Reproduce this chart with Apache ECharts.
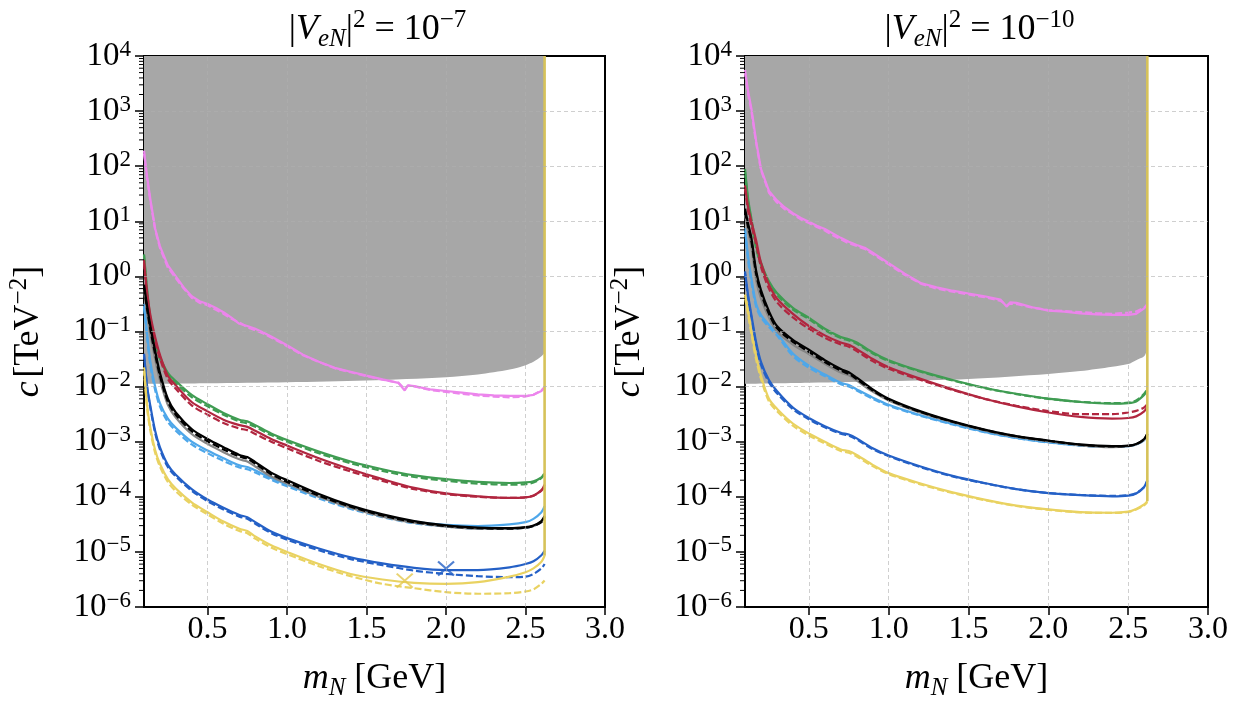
<!DOCTYPE html>
<html><head><meta charset="utf-8">
<script src="https://cdn.jsdelivr.net/npm/echarts@6/dist/echarts.min.js"></script>
<style>html,body{margin:0;padding:0;background:#fff}#c{width:1233px;height:706px}</style>
</head><body><div id="c"></div>
<script>
// ---------- shared axes / ticks ----------
const xs = [0.10,0.12,0.14,0.17,0.20,0.25,0.30,0.40,0.50,0.60,0.70,0.75,0.80,0.90,1.00,1.20,1.40,1.60,1.80,2.00,2.20,2.40,2.50,2.55,2.60,2.62];
const xsPink = [0.10,0.12,0.14,0.17,0.20,0.25,0.30,0.35,0.40,0.45,0.50,0.55,0.60,0.65,0.70,0.75,0.80,0.85,0.90,1.00,1.10,1.20,1.30,1.40,1.50,1.60,1.70,1.74,1.76,1.80,1.90,2.00,2.10,2.20,2.30,2.40,2.50,2.55,2.60,2.62];
const grayX = [0.10,0.50,1.00,1.50,2.00,2.20,2.40,2.50,2.55,2.60,2.617];
const xTicks = [0.5,1.0,1.5,2.0,2.5,3.0];
const yDecades = [1e-6,1e-5,1e-4,1e-3,1e-2,1e-1,1e0,1e1,1e2,1e3,1e4];
const edgeX = 2.62;       // kinematic edge of the yellow curve
const panelTitles = ['−7','−10'];

// ---------- left panel  |V_eN|^2 = 1e-7 ----------
const L_grayLow = [0.0112,0.0115,0.012,0.0129,0.0148,0.0166,0.0204,0.0245,0.0282,0.0355,0.0398];
const L_pink   = [191,63.1,25.1,7.41,3.55,1.58,1.0,0.631,0.437,0.355,0.316,0.269,0.224,0.178,0.138,0.126,0.112,0.0955,0.0813,0.0562,0.038,0.0282,0.0219,0.0186,0.0158,0.0135,0.0117,0.00851,0.0105,0.0102,0.00891,0.00832,0.00776,0.00724,0.00692,0.00676,0.00676,0.00708,0.00832,0.00955];
const L_pinkD  = [170,58,23,7.0,3.3,1.45,0.93,0.60,0.41,0.33,0.30,0.25,0.21,0.17,0.145,0.12,0.105,0.092,0.078,0.054,0.037,0.028,0.0215,0.0182,0.0155,0.0133,0.0118,0.0090,0.0104,0.0101,0.0087,0.0080,0.0074,0.0069,0.0066,0.0064,0.0066,0.0071,0.0086,0.0098];
const L_green  = [2.51,0.562,0.178,0.0708,0.0355,0.0178,0.0126,7.08e-3,4.79e-3,3.31e-3,2.51e-3,2.34e-3,2.0e-3,1.41e-3,1.07e-3,6.61e-4,4.37e-4,3.16e-4,2.45e-4,2.09e-4,1.86e-4,1.78e-4,1.82e-4,1.91e-4,2.24e-4,2.63e-4];
const L_greenD = [2.40,0.525,0.158,0.0631,0.0316,0.0162,0.0115,6.46e-3,4.37e-3,3.09e-3,2.34e-3,2.14e-3,1.86e-3,1.32e-3,1.0e-3,6.17e-4,4.07e-4,2.95e-4,2.29e-4,1.95e-4,1.74e-4,1.66e-4,1.70e-4,1.82e-4,2.19e-4,2.75e-4];
const L_red    = [2.0,0.501,0.2,0.0794,0.038,0.0158,0.0105,5.25e-3,3.55e-3,2.51e-3,2.0e-3,1.86e-3,1.58e-3,1.12e-3,8.51e-4,5.01e-4,3.16e-4,2.09e-4,1.45e-4,1.15e-4,1.02e-4,9.55e-5,9.77e-5,1.05e-4,1.32e-4,1.66e-4];
const L_redD   = [1.78,0.417,0.166,0.0661,0.0324,0.0138,9.12e-3,4.57e-3,3.09e-3,2.19e-3,1.74e-3,1.62e-3,1.38e-3,1.0e-3,7.59e-4,4.47e-4,2.88e-4,1.95e-4,1.38e-4,1.12e-4,1.0e-4,9.55e-5,9.77e-5,1.05e-4,1.29e-4,1.58e-4];
const L_black  = [0.708,0.282,0.126,0.0447,0.0178,6.03e-3,3.39e-3,1.70e-3,1.12e-3,7.94e-4,5.75e-4,5.25e-4,4.27e-4,2.75e-4,2.0e-4,1.12e-4,6.92e-5,4.79e-5,3.63e-5,3.02e-5,2.75e-5,2.69e-5,2.82e-5,3.02e-5,3.63e-5,4.47e-5];
const L_blackD = [0.631,0.251,0.110,0.0389,0.0158,5.37e-3,3.09e-3,1.55e-3,1.02e-3,7.24e-4,5.37e-4,4.90e-4,3.98e-4,2.57e-4,1.86e-4,1.05e-4,6.61e-5,4.57e-5,3.47e-5,2.95e-5,2.69e-5,2.63e-5,2.75e-5,2.95e-5,3.47e-5,4.27e-5];
const L_grey   = [0.562,0.209,0.0891,0.0316,0.0132,4.68e-3,2.75e-3,1.38e-3,9.12e-4,6.46e-4,4.79e-4,4.37e-4,3.55e-4,2.34e-4,1.74e-4,1.0e-4,6.31e-5,4.37e-5,3.39e-5,2.88e-5,2.63e-5,2.63e-5,2.75e-5,2.95e-5,3.55e-5,4.37e-5];
const L_sky    = [0.316,0.0891,0.0282,0.01,5.01e-3,2.63e-3,1.78e-3,1.0e-3,6.92e-4,5.01e-4,3.72e-4,3.47e-4,3.02e-4,2.19e-4,1.66e-4,1.0e-4,6.46e-5,4.57e-5,3.55e-5,3.09e-5,2.95e-5,3.16e-5,3.47e-5,3.98e-5,5.25e-5,6.76e-5];
const L_skyD   = [0.282,0.0759,0.024,8.71e-3,4.37e-3,2.29e-3,1.58e-3,8.91e-4,6.17e-4,4.47e-4,3.39e-4,3.16e-4,2.75e-4,2.04e-4,1.55e-4,9.33e-5,6.03e-5,4.27e-5,3.31e-5,2.88e-5,2.63e-5,2.63e-5,2.75e-5,2.95e-5,3.55e-5,4.37e-5];
const L_blue   = [0.0398,0.01,4.47e-3,1.58e-3,7.94e-4,3.80e-4,2.51e-4,1.38e-4,8.91e-5,6.31e-5,4.68e-5,4.27e-5,3.47e-5,2.34e-5,1.78e-5,1.15e-5,7.94e-6,6.17e-6,5.13e-6,4.68e-6,4.68e-6,5.25e-6,6.03e-6,6.76e-6,8.71e-6,1.05e-5];
const L_blueD  = [0.038,9.33e-3,4.07e-3,1.45e-3,7.24e-4,3.47e-4,2.34e-4,1.29e-4,8.32e-5,5.89e-5,4.37e-5,3.98e-5,3.24e-5,2.19e-5,1.66e-5,1.07e-5,7.41e-6,5.75e-6,4.57e-6,3.98e-6,3.63e-6,3.47e-6,3.55e-6,3.98e-6,5.01e-6,6.03e-6];
const L_yellow = [0.0224,4.47e-3,1.78e-3,7.08e-4,3.98e-4,2.09e-4,1.41e-4,7.94e-5,5.25e-5,3.55e-5,2.63e-5,2.40e-5,1.91e-5,1.32e-5,1.0e-5,6.03e-6,3.98e-6,3.16e-6,2.75e-6,2.63e-6,2.82e-6,3.55e-6,4.27e-6,5.01e-6,6.61e-6,8.51e-6];
const L_yellowD= [0.0209,3.98e-3,1.58e-3,6.31e-4,3.55e-4,1.86e-4,1.26e-4,7.24e-5,4.79e-5,3.24e-5,2.40e-5,2.19e-5,1.74e-5,1.20e-5,9.12e-6,5.50e-6,3.63e-6,2.63e-6,2.19e-6,1.86e-6,1.74e-6,1.78e-6,1.91e-6,2.09e-6,2.63e-6,3.02e-6];
const L_blueMark   = [[2.0, 5.0e-6]];
const L_yellowMark = [[1.74, 3.0e-6]];

// ---------- right panel  |V_eN|^2 = 1e-10 ----------
const R_grayLow = [0.0112,0.0117,0.0126,0.0138,0.017,0.0191,0.0229,0.0257,0.0302,0.0355,0.0447];
const R_pink   = [5620,2239,1122,282,89.1,35.5,24.0,17.8,14.1,11.5,9.77,8.32,7.24,6.03,5.01,4.27,3.72,3.31,2.69,1.74,1.12,0.759,0.631,0.55,0.49,0.437,0.38,0.282,0.339,0.331,0.275,0.24,0.229,0.214,0.204,0.2,0.2,0.209,0.263,0.316];
const R_pinkD  = [5000,2000,1000,260,85,33,22,16.5,13.5,10.8,9.3,7.9,6.8,5.6,4.7,4.0,3.55,3.15,2.55,1.66,1.07,0.74,0.60,0.53,0.47,0.42,0.36,0.30,0.32,0.315,0.27,0.245,0.235,0.225,0.215,0.21,0.22,0.23,0.27,0.30];
const R_green  = [89.1,25.1,11.2,3.55,1.78,0.813,0.501,0.269,0.178,0.112,0.0794,0.0724,0.0631,0.0417,0.0302,0.0191,0.0132,9.55e-3,7.41e-3,6.03e-3,5.25e-3,4.90e-3,5.01e-3,5.37e-3,7.08e-3,8.51e-3];
const R_greenD = [80,22,10,3.2,1.6,0.74,0.46,0.25,0.168,0.106,0.076,0.069,0.060,0.040,0.029,0.0186,0.0129,9.4e-3,7.3e-3,6.0e-3,5.3e-3,5.0e-3,5.1e-3,5.6e-3,7.4e-3,9.0e-3];
const R_red    = [44.7,17.8,10.0,4.47,1.78,0.708,0.398,0.209,0.126,0.0851,0.0631,0.0575,0.0479,0.0316,0.0224,0.0138,8.91e-3,6.03e-3,4.37e-3,3.39e-3,2.82e-3,2.63e-3,2.69e-3,2.88e-3,3.55e-3,4.27e-3];
const R_redD   = [40,15,8.5,3.8,1.5,0.60,0.34,0.18,0.112,0.077,0.058,0.053,0.044,0.029,0.021,0.0132,8.7e-3,6.0e-3,4.5e-3,3.6e-3,3.16e-3,3.16e-3,3.39e-3,3.63e-3,4.17e-3,4.79e-3];
const R_black  = [17.0,8.91,5.01,1.26,0.562,0.234,0.126,0.0708,0.0468,0.0302,0.0209,0.0182,0.0145,8.91e-3,6.03e-3,3.55e-3,2.34e-3,1.66e-3,1.26e-3,1.05e-3,8.91e-4,8.32e-4,8.51e-4,9.12e-4,1.12e-3,1.41e-3];
const R_blackD = [15,7.8,4.4,1.1,0.50,0.21,0.115,0.065,0.043,0.028,0.0195,0.017,0.0136,8.5e-3,5.8e-3,3.45e-3,2.3e-3,1.64e-3,1.25e-3,1.04e-3,8.8e-4,8.2e-4,8.4e-4,9.0e-4,1.1e-3,1.38e-3];
const R_grey   = [13,6.5,3.4,0.85,0.40,0.18,0.100,0.058,0.039,0.026,0.018,0.016,0.0128,8.1e-3,5.6e-3,3.35e-3,2.25e-3,1.6e-3,1.22e-3,1.02e-3,8.6e-4,8.0e-4,8.3e-4,8.9e-4,1.08e-3,1.35e-3];
const R_sky    = [7.41,2.24,0.933,0.316,0.2,0.132,0.0933,0.0398,0.024,0.0166,0.0117,0.0107,8.91e-3,6.31e-3,4.68e-3,3.02e-3,2.09e-3,1.51e-3,1.17e-3,9.77e-4,8.51e-4,8.13e-4,8.32e-4,8.91e-4,1.07e-3,1.32e-3];
const R_skyD   = [6.5,1.9,0.80,0.28,0.18,0.12,0.085,0.036,0.022,0.0155,0.0110,0.0101,8.5e-3,6.0e-3,4.5e-3,2.95e-3,2.05e-3,1.49e-3,1.16e-3,9.7e-4,8.5e-4,8.1e-4,8.3e-4,8.9e-4,1.06e-3,1.3e-3];
const R_blue   = [1.23,0.447,0.2,0.0631,0.0282,0.0132,8.32e-3,4.17e-3,2.69e-3,1.91e-3,1.45e-3,1.35e-3,1.15e-3,7.59e-4,5.62e-4,3.55e-4,2.40e-4,1.78e-4,1.38e-4,1.17e-4,1.07e-4,1.02e-4,1.05e-4,1.15e-4,1.51e-4,2.0e-4];
const R_blueD  = [1.1,0.40,0.18,0.056,0.025,0.0120,7.6e-3,3.9e-3,2.55e-3,1.82e-3,1.39e-3,1.29e-3,1.1e-3,7.3e-4,5.45e-4,3.45e-4,2.35e-4,1.76e-4,1.37e-4,1.17e-4,1.08e-4,1.04e-4,1.07e-4,1.17e-4,1.5e-4,1.95e-4];
const R_yellow = [0.468,0.224,0.102,0.0355,0.0158,6.03e-3,3.98e-3,2.14e-3,1.41e-3,1.0e-3,7.24e-4,6.76e-4,5.75e-4,3.80e-4,2.69e-4,1.74e-4,1.20e-4,8.91e-5,6.92e-5,5.89e-5,5.25e-5,5.13e-5,5.37e-5,6.03e-5,7.24e-5,8.32e-5];
const R_yellowD= [0.42,0.20,0.09,0.031,0.014,5.4e-3,3.6e-3,1.95e-3,1.3e-3,9.3e-4,6.8e-4,6.3e-4,5.4e-4,3.6e-4,2.58e-4,1.68e-4,1.17e-4,8.7e-5,6.8e-5,5.8e-5,5.2e-5,5.1e-5,5.3e-5,5.9e-5,7.0e-5,8.0e-5];

// ---------- styling ----------
const FONT = "'Liberation Serif','DejaVu Serif',serif";
const C = {pink:'#ec85ec', green:'#3f9c52', red:'#b1263f', black:'#000000', grey:'#858585',
           sky:'#4ea7ea', blue:'#2460c6', yellow:'#e9d261', fill:'#a7a7a7'};
const yMin = 1e-6, yMax = 1e4, xMin = 0.1, xMax = 3.0;
const grids = [{left:144, top:56, width:461, height:556}, {left:745, top:56, width:463, height:556}];

const minorVals = [];
for (let n = -6; n < 4; n++) for (let k = 2; k < 10; k++) minorVals.push(k * Math.pow(10, n));

const richBase = {
  n:{fontFamily:FONT, fontSize:36, fontWeight:'normal', color:'#000', lineHeight:44},
  i:{fontFamily:FONT, fontSize:36, fontWeight:'normal', fontStyle:'italic', color:'#000', lineHeight:44},
  sub:{fontFamily:FONT, fontSize:25, fontWeight:'normal', fontStyle:'italic', color:'#000', verticalAlign:'bottom', lineHeight:30},
  sup:{fontFamily:FONT, fontSize:25, fontWeight:'normal', color:'#000', verticalAlign:'top', lineHeight:26}
};

function pairs(x, y){ return x.map((v,i)=>[v, y[i]]); }
function curve(gi, x, y, color, dashed, opts){
  return Object.assign({type:'line', xAxisIndex:gi, yAxisIndex:gi, data:pairs(x,y), symbol:'none',
    showSymbol:false, silent:true, animation:false, z:3, smooth:0.3,
    lineStyle:{color:color, width:2.2, type: dashed ? [7,3] : 'solid'}}, opts||{});
}

function panel(gi, P){
  const s = [];
  // gray excluded region, filled up to top of the axis
  s.push({type:'line', xAxisIndex:gi, yAxisIndex:gi, data:pairs(grayX, P.grayLow), symbol:'none', silent:true,
    animation:false, z:1, smooth:0.3, lineStyle:{width:0, color:C.fill}, areaStyle:{color:C.fill, opacity:1, origin:'end'}});
  // grid lines
  s.push({type:'line', xAxisIndex:gi, yAxisIndex:gi, data:[], z:2, silent:true, animation:false,
    markLine:{silent:true, symbol:['none','none'], label:{show:false}, animation:false,
      lineStyle:{color:'rgba(175,175,175,0.6)', type:[4,3], width:1},
      data: xTicks.filter(v=>v<xMax).map(v=>({xAxis:v})).concat(yDecades.filter(v=>v>yMin && v<yMax).map(v=>({yAxis:v})))}});
  s.push(curve(gi, xsPink, P.pinkD, C.pink, true, {smooth:false}));
  s.push(curve(gi, xsPink, P.pink, C.pink, false, {smooth:false}));
  s.push(curve(gi, xs, P.greenD, C.green, true));
  s.push(curve(gi, xs, P.green, C.green, false));
  s.push(curve(gi, xs, P.redD, C.red, true));
  s.push(curve(gi, xs, P.red, C.red, false));
  s.push(curve(gi, xs, P.skyD, C.sky, true));
  s.push(curve(gi, xs, P.sky, C.sky, false));
  s.push(curve(gi, xs, P.grey, C.grey, false));
  s.push(curve(gi, xs, P.black, C.black, false));
  s.push(curve(gi, xs, P.blackD, C.black, true));
  s.push(curve(gi, xs, P.blueD, C.blue, true));
  s.push(curve(gi, xs, P.blue, C.blue, false));
  s.push(curve(gi, xs, P.yellowD, C.yellow, true));
  s.push(curve(gi, xs, P.yellow, C.yellow, false));
  // vertical kinematic edge (yellow) from the curve end to the top of the plot
  s.push(curve(gi, [edgeX, edgeX], [P.yellow[P.yellow.length-1], yMax], '#d9c45a', false, {smooth:false, lineStyle:{color:'#d6c259', width:2.6}}));
  if (P.marks) P.marks.forEach(m => s.push({type:'scatter', xAxisIndex:gi, yAxisIndex:gi, data:m.data, silent:true, animation:false, z:4,
      symbol:'path://M0,0L10,10M10,0L0,10', symbolSize:[16,14],
      itemStyle:{color:'rgba(0,0,0,0)', borderColor:m.color, borderWidth:2}}));
  // log minor ticks
  s.push({type:'custom', xAxisIndex:gi, yAxisIndex:gi, data:minorVals.map(v=>[xMin, v]), silent:true, animation:false, z:6, clip:false,
    renderItem:(p, api)=>{ const c = api.coord([api.value(0), api.value(1)]);
      return {type:'line', shape:{x1:c[0]-5, y1:c[1], x2:c[0], y2:c[1]}, style:{stroke:'#000', lineWidth:1}}; }});
  return s;
}

const left = {grayLow:L_grayLow, pink:L_pink, pinkD:L_pinkD, green:L_green, greenD:L_greenD, red:L_red, redD:L_redD,
  black:L_black, blackD:L_blackD, grey:L_grey, sky:L_sky, skyD:L_skyD, blue:L_blue, blueD:L_blueD, yellow:L_yellow, yellowD:L_yellowD,
  marks:[{data:L_blueMark, color:C.blue}, {data:L_yellowMark, color:'#e3c84e'}]};
const right = {grayLow:R_grayLow, pink:R_pink, pinkD:R_pinkD, green:R_green, greenD:R_greenD, red:R_red, redD:R_redD,
  black:R_black, blackD:R_blackD, grey:R_grey, sky:R_sky, skyD:R_skyD, blue:R_blue, blueD:R_blueD, yellow:R_yellow, yellowD:R_yellowD};

function xAxisCfg(gi){
  return {type:'value', gridIndex:gi, min:xMin, max:xMax,
    axisLine:{show:true, onZero:false, lineStyle:{color:'#000', width:2}},
    axisTick:{show:true, customValues:xTicks, length:8, lineStyle:{color:'#000', width:1.5}},
    axisLabel:{customValues:xTicks, formatter:v=>Number(v).toFixed(1), fontFamily:FONT, fontSize:32, color:'#000', margin:7},
    splitLine:{show:false},
    name:'{i|m}{sub|N}{n| [GeV]}', nameLocation:'middle', nameGap:50, nameTextStyle:{rich:richBase}};
}
function yAxisCfg(gi){
  return {type:'log', logBase:10, gridIndex:gi, min:yMin, max:yMax, splitNumber:10,
    axisLine:{show:true, onZero:false, lineStyle:{color:'#000', width:2}},
    axisTick:{show:true, customValues:yDecades, length:9, lineStyle:{color:'#000', width:1.5}},
    axisLabel:{customValues:yDecades, margin:13,
      formatter:v=>{ const e = Math.round(Math.log10(v)); return '{b|10}{s|' + (e < 0 ? '−' + (-e) : e) + '}'; },
      rich:{b:{fontFamily:FONT, fontSize:33, color:'#000', lineHeight:36},
            s:{fontFamily:FONT, fontSize:23, color:'#000', verticalAlign:'top', lineHeight:24}}},
    splitLine:{show:false}, minorTick:{show:false},
    name:'{i|c} {n|[TeV}{sup|−2}{n|]}', nameLocation:'middle', nameRotate:90, nameGap:93, nameTextStyle:{rich:richBase}};
}

const chart = echarts.init(document.getElementById('c'), null, {renderer:'canvas'});
chart.setOption({
  animation:false,
  backgroundColor:'#fff',
  title: panelTitles.map((t, gi)=>({
    text:'{n||}{i|V}{sub|eN}{n||}{sup|2}{n| = 10}{sup|' + t + '}',
    left: grids[gi].left + grids[gi].width/2 - 2, top:3, textAlign:'center',
    textStyle:{fontWeight:'normal', rich:richBase}})),
  grid: grids.map(g=>Object.assign({show:true, borderColor:'#000', borderWidth:2, backgroundColor:'rgba(0,0,0,0)', containLabel:false}, g)),
  xAxis:[xAxisCfg(0), xAxisCfg(1)],
  yAxis:[yAxisCfg(0), yAxisCfg(1)],
  series: panel(0, left).concat(panel(1, right))
});
</script></body></html>
